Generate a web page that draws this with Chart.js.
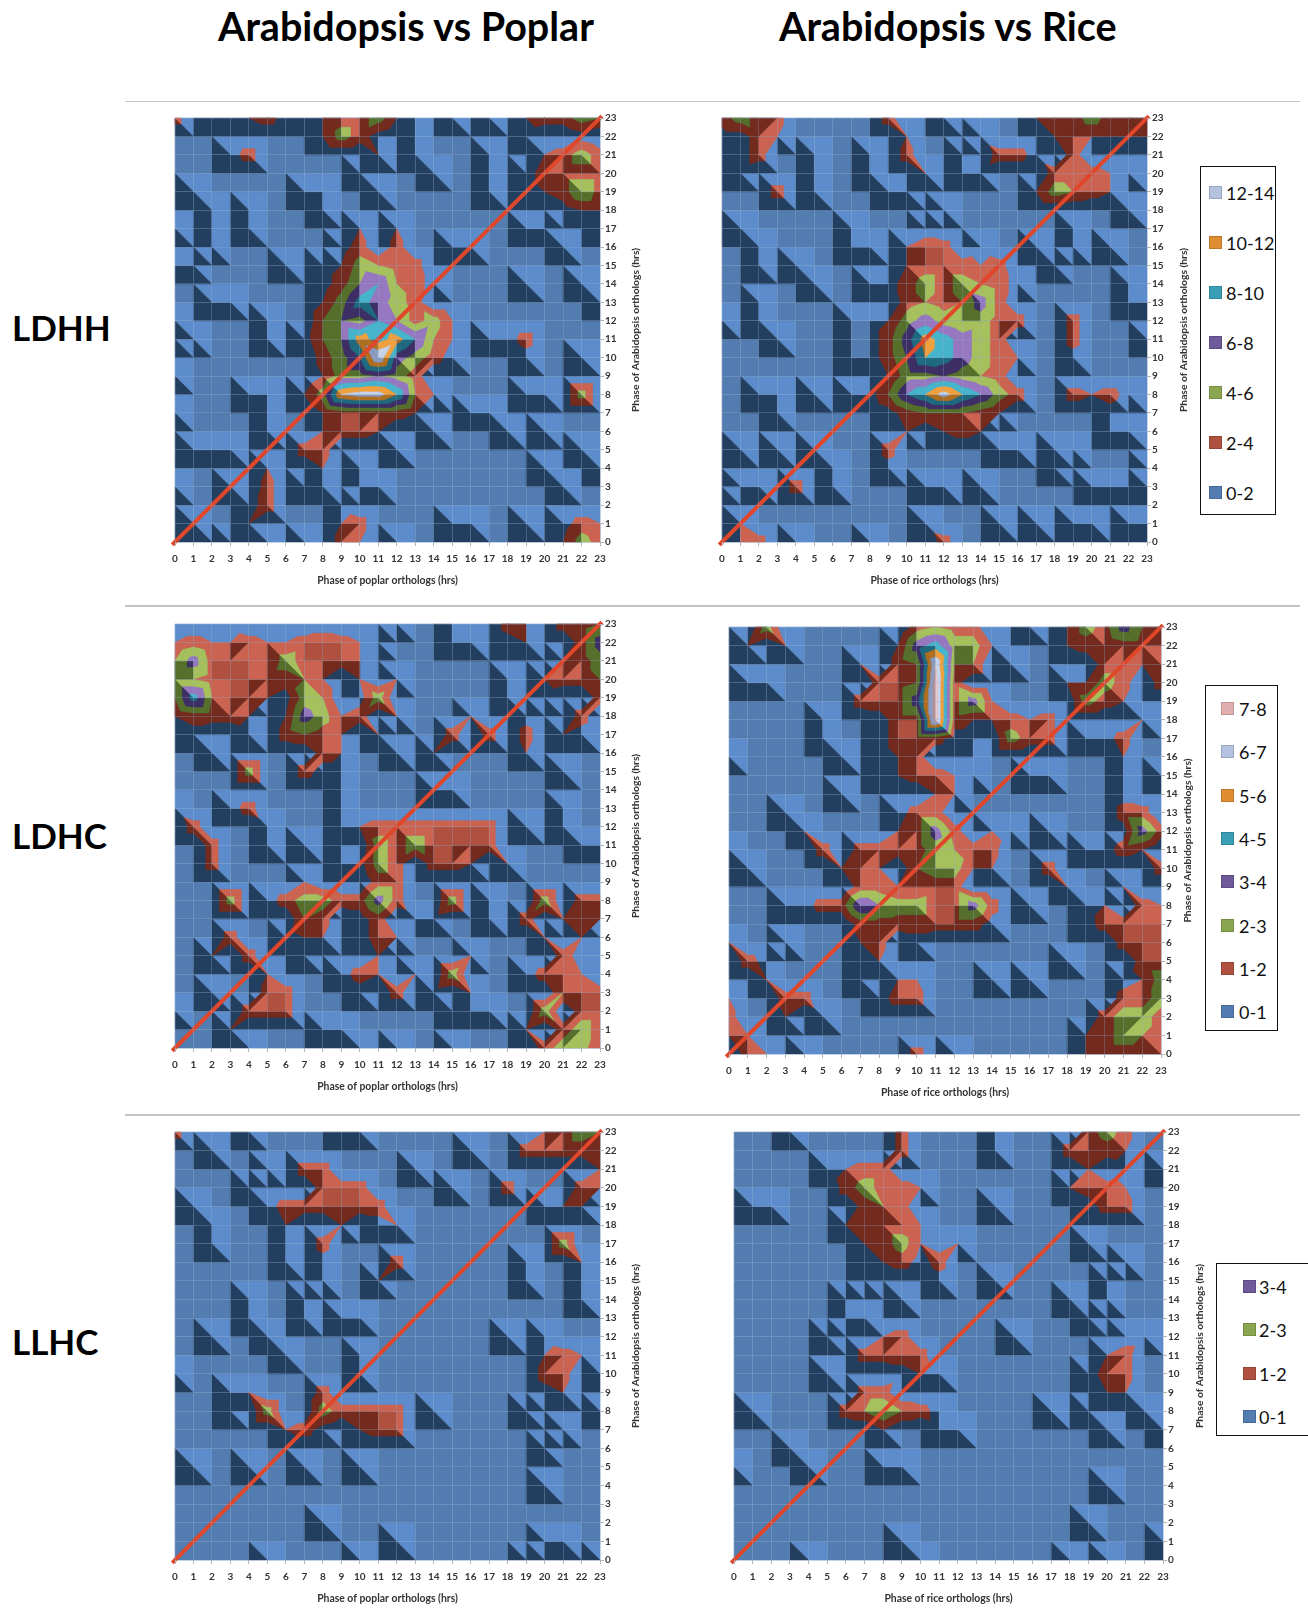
<!DOCTYPE html>
<html>
<head>
<meta charset="utf-8">
<script src="https://cdn.jsdelivr.net/npm/chart.js@4"></script>
<style>
  html, body { margin: 0; padding: 0; background: #fff; }
  #page { position: relative; width: 1308px; height: 1617px; overflow: hidden; font-family: Lato, sans-serif; color: #000; }
  #page canvas { position: absolute; filter: blur(0.5px); }
  .heading { position: absolute; font-weight: 700; font-size: 39.5px; line-height: 44px; white-space: nowrap; }
  .rowhead { position: absolute; font-weight: 700; font-size: 35px; line-height: 44px; white-space: nowrap; }
  .rule { position: absolute; left: 125px; width: 1175px; background: #c4c4c4; }
  .legend { position: absolute; box-sizing: border-box; border: 1.5px solid #111; background: #fff; }
  .legend i { position: absolute; width: 13px; height: 13px; box-sizing: border-box; border: 1px solid rgba(0,0,0,.15); }
  .legend span { position: absolute; font-size: 18px; line-height: 24px; color: #111; white-space: nowrap; }
</style>
</head>
<body>
<div id="page"></div>
<script>
// node heights per panel, top row is y = 23, one hex digit per hour of x
// 1 digit = half a legend band (so 2-3 is the red band, 4-5 green, ...)
const ldhhPoplar = [
  "301123 112335 210101 023354", "000000 002531 010000 010010", "000130 000002 010001 002353", "000000 000010 001001 013333",
  "010000 011001 000001 012363", "001010 001000 000000 000122", "101010 000020 200000 011001", "001000 000130 300110 000100",
  "110000 101254 330000 000000", "000000 001368 431000 010010", "001100 002597 530000 000001", "100001 004658 635200 000000",
  "010001 0146b9 b84201 130000", "100000 00358e 753100 010010", "100000 002556 530000 000000", "000011 025cdd a42000 011050",
  "100001 002333 320011 000000", "000001 002332 001000 101000", "011100 033000 100000 000010", "000002 002010 000000 001001",
  "100103 011011 000000 000100", "000013 000100 000000 000000", "010020 000230 000110 010132", "000101 010320 100000 000253"
];
const ldhhRice = [
  "353300 000300 100002 335333", "113200 000020 001000 222222", "013001 001030 010331 030000", "010001 001002 011000 333210",
  "000301 000110 000002 543200", "000000 000000 100000 000010", "010000 010001 000000 010000", "001000 011023 301001 010100",
  "001010 000023 332300 100000", "000001 001135 354310 000010", "001000 000034 347300 000011", "101000 011257 545330 030000",
  "000100 01137b 975300 030001", "000000 01136a 975320 010000", "000000 000255 654300 000000", "001101 01148a da8530 032310",
  "000100 000134 443200 000100", "000000 000020 232000 000110", "010101 000300 000110 110000", "000000 100100 000000 100001",
  "011030 100001 101000 001111", "100000 000000 000000 000000", "020000 000001 000101 011011", "023010 001000 300000 000000"
];
const ldhcPoplar = [
  "000100 001000 100100 320334", "232232 233321 000110 120037", "473332 533320 000000 000235", "443333 342020 200000 102334",
  "494332 154015 000000 101003", "233320 275230 200020 010030", "010010 343202 000303 030210", "001000 003200 102000 020000",
  "000050 031100 000000 000100", "000000 000100 001100 000000", "100130 000100 000000 000100", "030001 000123 333333 010100",
  "003001 010105 353333 000011", "003000 000115 303320 200000", "000000 020003 300000 000000", "000501 355337 300501 005033",
  "000000 043013 011001 030222", "000300 122013 200000 002020", "002030 010002 000020 000311", "000002 000132 020500 013220",
  "001003 300010 301020 000433", "100033 300000 000111 005033", "000200 001100 000000 020353", "000010 000010 100100 003552"
];
const ldhcRice = [
  "005000 000034 330010 253744", "020200 000279 552000 232332", "000000 02034e 440100 003323", "011000 00334f 300000 225303",
  "000000 03337f 372000 053200", "000001 00133f 322323 000020", "000001 001333 110533 011300", "100000 101230 010000 000200",
  "000000 001233 210011 000101", "000000 100002 200000 000100", "000100 000133 000000 000330", "000020 000237 302101 000173",
  "100003 033335 433000 011320", "010000 232045 522003 000003", "000000 033223 300000 200200", "000113 386553 373010 012032",
  "000000 033333 331000 013333", "200100 023010 000000 000333", "031000 012000 000000 100033", "002000 010220 001010 000125",
  "200330 001330 000000 000335", "300201 000000 000000 003553", "220000 000000 000000 023543", "032010 000030 100000 023333"
];
const llhcPoplar = [
  "300010 000110 000000 002354", "001000 000000 000010 033332", "000001 033000 010000 000002", "000010 003330 000100 300032",
  "010001 333333 000000 001220", "001000 200201 200000 000000", "001000 103000 000000 000500", "000000 101000 300000 010020",
  "000000 001002 000000 010010", "000010 010000 000000 000010", "000010 010110 000000 000000", "001001 000000 000000 101000",
  "000000 100010 000000 002320", "100000 000010 000000 003301", "000120 003000 000000 001200", "000105 005333 301000 010001",
  "000000 231023 300000 000100", "000000 000000 000000 001000", "010010 010010 000000 000000", "000000 000000 000000 001000",
  "000000 000000 000000 000000", "000000 001000 000000 000000", "000000 000000 100000 001100", "000001 000010 000000 010001"
];
const llhcRice = [
  "000100 000300 001000 035300", "000000 000300 001000 323200", "000001 233000 000000 020101", "000000 353320 000000 233200",
  "011000 034300 001000 013300", "000000 233320 000000 000000", "000000 023521 200000 010000", "000000 012313 000000 000100",
  "000000 010001 001000 001000", "000000 100100 000000 101000", "000000 110000 000000 010000", "000001 002300 000100 000110",
  "000000 033330 000000 002300", "000001 000121 000000 013300", "000000 033000 000000 002200", "010000 346431 000001 010010",
  "000000 002001 100000 001001", "000100 000000 000000 000000", "100010 001100 000000 000000", "000000 000000 000000 001000",
  "000000 000000 000000 000000", "000000 000000 000000 010000", "000000 000100 000000 000001", "000010 000010 000000 101000"
];

const diagonalHours = [-0.15, 23.1];
const columnTitles = ["Arabidopsis vs Poplar", "Arabidopsis vs Rice"];
const rowTitles = ["LDHH", "LDHC", "LLHC"];
const ldhhBands = ["12-14", "10-12", "8-10", "6-8", "4-6", "2-4", "0-2"];
const ldhcBands = ["7-8", "6-7", "5-6", "4-5", "3-4", "2-3", "1-2", "0-1"];
const llhcBands = ["3-4", "2-3", "1-2", "0-1"];

// dark, flat, light tone of each band
const bandTones = [
  ["#233f60", "#537cb0", "#5c8ccb"],
  ["#742a1c", "#b0513f", "#cc6350"],
  ["#56702c", "#8aa650", "#a6c05c"],
  ["#3d2f66", "#6e5a9b", "#9677c0"],
  ["#1f6a7e", "#3a9fb6", "#46b4cb"],
  ["#b06e20", "#e08c30", "#f0a03c"],
  ["#8d9cc0", "#b4c2e0", "#c8d4ea"],
  ["#c09090", "#e0b0b0", "#ecc8c8"]
];

const panels = [
  { rows: ldhhPoplar, xTitle: "Phase of poplar orthologs (hrs)", left: 175, top: 118, right: 600, bottom: 542, yTitleOff: 36 },
  { rows: ldhhRice, xTitle: "Phase of rice orthologs (hrs)", left: 721.7, top: 117.7, right: 1146.7, bottom: 541.7, yTitleOff: 37 },
  { rows: ldhcPoplar, xTitle: "Phase of poplar orthologs (hrs)", left: 175, top: 624, right: 600, bottom: 1048, yTitleOff: 36 },
  { rows: ldhcRice, xTitle: "Phase of rice orthologs (hrs)", left: 729, top: 626.7, right: 1161, bottom: 1053.3, yTitleOff: 27 },
  { rows: llhcPoplar, xTitle: "Phase of poplar orthologs (hrs)", left: 175, top: 1132.3, right: 600, bottom: 1560, yTitleOff: 36 },
  { rows: llhcRice, xTitle: "Phase of rice orthologs (hrs)", left: 734.3, top: 1132.3, right: 1163.3, bottom: 1560.7, yTitleOff: 37 }
];

function nodePoints(rows) {
  const pts = [];
  rows.forEach((row, r) => {
    const digits = row.replace(/ /g, "");
    for (let x = 0; x < 24; x++) pts.push({ x: x, y: 23 - r, v: parseInt(digits[x], 16) });
  });
  return pts;
}

function clipAt(poly, level, keepAbove) {
  const out = [];
  for (let i = 0; i < poly.length; i++) {
    const a = poly[i], b = poly[(i + 1) % poly.length];
    const aIn = keepAbove ? a.v >= level : a.v <= level;
    const bIn = keepAbove ? b.v >= level : b.v <= level;
    if (aIn) out.push(a);
    if (aIn !== bIn) {
      const t = (level - a.v) / (b.v - a.v);
      out.push({ x: a.x + (b.x - a.x) * t, y: a.y + (b.y - a.y) * t, v: level });
    }
  }
  return out;
}

function polyArea(poly) {
  let sum = 0;
  poly.forEach((p, i) => {
    const q = poly[(i + 1) % poly.length];
    sum += p.x * q.y - q.x * p.y;
  });
  return Math.abs(sum) / 2;
}

// tone of a triangle follows the tilt of its cell: 0 dark, 1 flat, 2 light
function toneOf(tl, tr, bl, br, lowerLeft) {
  if (tl.v === tr.v && tl.v === bl.v && tl.v === br.v) return 1;
  if (tr.v > bl.v) return 0;
  if (tr.v < bl.v) return 2;
  return lowerLeft ? 0 : 2;
}

function tracePoly(ctx, xs, ys, poly, color) {
  ctx.beginPath();
  poly.forEach((p, i) => {
    const px = xs.getPixelForValue(p.x), py = ys.getPixelForValue(p.y);
    if (i) ctx.lineTo(px, py); else ctx.moveTo(px, py);
  });
  ctx.closePath();
  ctx.fillStyle = color;
  ctx.strokeStyle = color;
  ctx.lineWidth = 0.5;
  ctx.fill();
  ctx.stroke();
}

function fillHotBands(ctx, xs, ys, tri, tone) {
  for (let band = 1; band < bandTones.length; band++) {
    const hi = band === bandTones.length - 1 ? 99 : (band + 1) * 2;
    let poly = clipAt(tri, band * 2, true);
    if (poly.length) poly = clipAt(poly, hi, false);
    if (poly.length >= 3 && polyArea(poly) > 0.001) tracePoly(ctx, xs, ys, poly, bandTones[band][tone]);
  }
}

const surfacePlugin = {
  id: "surface",
  beforeDatasetsDraw(chart) {
    const ctx = chart.ctx, xs = chart.scales.x, ys = chart.scales.y;
    const nodes = chart.data.datasets[1].data;
    const at = (x, y) => nodes[(23 - y) * 24 + x];
    ctx.save();
    // base band first, always cut along the same diagonal
    for (let y = 0; y < 23; y++) {
      for (let x = 0; x < 23; x++) {
        const tl = at(x, y + 1), tr = at(x + 1, y + 1), bl = at(x, y), br = at(x + 1, y);
        const toneA = toneOf(tl, tr, bl, br, true), toneB = toneOf(tl, tr, bl, br, false);
        if (toneA === toneB) {
          tracePoly(ctx, xs, ys, [tl, tr, br, bl], bandTones[0][toneA]);
        } else {
          tracePoly(ctx, xs, ys, [tl, tr, br], bandTones[0][toneB]);
          tracePoly(ctx, xs, ys, [tl, bl, br], bandTones[0][toneA]);
        }
      }
    }
    // bands above it, the cell is cut through its higher corners
    for (let y = 0; y < 23; y++) {
      for (let x = 0; x < 23; x++) {
        const tl = at(x, y + 1), tr = at(x + 1, y + 1), bl = at(x, y), br = at(x + 1, y);
        if (Math.max(tl.v, tr.v, bl.v, br.v) < 2) continue;
        if (tr.v + bl.v > tl.v + br.v) {
          fillHotBands(ctx, xs, ys, [tr, bl, tl], toneOf(tl, tr, bl, br, true));
          fillHotBands(ctx, xs, ys, [tr, bl, br], toneOf(tl, tr, bl, br, false));
        } else {
          fillHotBands(ctx, xs, ys, [tl, bl, br], toneOf(tl, tr, bl, br, true));
          fillHotBands(ctx, xs, ys, [tl, tr, br], toneOf(tl, tr, bl, br, false));
        }
      }
    }
    ctx.restore();
  },
  afterDraw(chart, args, opts) {
    // right hand title reads bottom to top, the scale title can't do that on the right
    const ctx = chart.ctx, area = chart.chartArea;
    ctx.save();
    ctx.translate(area.right + opts.offset, (area.top + area.bottom) / 2);
    ctx.rotate(-Math.PI / 2);
    ctx.font = "bold 10.3px Lato";
    ctx.fillStyle = "#333";
    ctx.textAlign = "center";
    ctx.textBaseline = "middle";
    ctx.fillText("Phase of Arabidopsis orthologs (hrs)", 0, 0);
    ctx.restore();
  }
};

function drawPanel(page, panel) {
  const padLeft = 12, padTop = 10, xAxisH = 48, yAxisW = 52;
  const canvas = document.createElement("canvas");
  const w = panel.right - panel.left + padLeft + yAxisW;
  const h = panel.bottom - panel.top + padTop + xAxisH;
  canvas.width = Math.round(w);
  canvas.height = Math.round(h);
  canvas.style.left = Math.round(panel.left - padLeft) + "px";
  canvas.style.top = Math.round(panel.top - padTop) + "px";
  page.appendChild(canvas);

  const axisTicks = { stepSize: 1, autoSkip: false, maxRotation: 0, color: "#333", font: { family: "Lato", size: 10, weight: "bold" } };

  new Chart(canvas, {
    type: "scatter",
    data: {
      datasets: [
        {
          data: diagonalHours.map(h => ({ x: h, y: h })),
          showLine: true, borderColor: "#e0472a", borderWidth: 4, pointRadius: 0, clip: false, order: 0
        },
        { data: nodePoints(panel.rows), pointRadius: 0, showLine: false, order: 1 }
      ]
    },
    options: {
      responsive: false,
      animation: false,
      devicePixelRatio: 1,
      layout: { padding: { left: padLeft, top: padTop, right: 0, bottom: 0 } },
      plugins: { legend: { display: false }, tooltip: { enabled: false }, surface: { offset: panel.yTitleOff } },
      scales: {
        x: {
          type: "linear", min: 0, max: 23, ticks: { ...axisTicks, padding: 7 },
          grid: { z: 1, color: "rgba(150,175,210,0.28)", tickColor: "#b5b5b5", tickLength: 4 },
          border: { display: false },
          title: { display: true, text: panel.xTitle, color: "#333", padding: { top: 0, bottom: 3 }, font: { family: "Lato", size: 10.4, weight: "bold" } },
          afterFit(scale) { scale.height = xAxisH; }
        },
        y: {
          type: "linear", position: "right", min: 0, max: 23, ticks: { ...axisTicks, padding: 1 },
          grid: { z: 1, color: "rgba(150,175,210,0.28)", tickColor: "#b5b5b5", tickLength: 4 },
          border: { display: false },
          afterFit(scale) { scale.width = yAxisW; }
        }
      }
    },
    plugins: [surfacePlugin]
  });
}

function addText(page, cls, text, left, top) {
  const d = document.createElement("div");
  d.className = cls;
  d.textContent = text;
  d.style.left = left + "px";
  d.style.top = top + "px";
  page.appendChild(d);
}

function addLegend(page, labels, box, firstY, stepY, swatchX, textX) {
  const d = document.createElement("div");
  d.className = "legend";
  d.style.cssText = `left:${box[0]}px;top:${box[1]}px;width:${box[2]}px;height:${box[3]}px`;
  labels.forEach((label, i) => {
    const cy = firstY + stepY * i - box[1];
    const band = labels.length - 1 - i;
    const sw = document.createElement("i");
    sw.style.cssText = `left:${swatchX - box[0]}px;top:${cy - 7}px;background:${bandTones[band][1]}`;
    const tx = document.createElement("span");
    tx.textContent = label;
    tx.style.cssText = `left:${textX - box[0]}px;top:${cy - 12}px`;
    d.appendChild(sw);
    d.appendChild(tx);
  });
  page.appendChild(d);
}

const page = document.getElementById("page");
addText(page, "heading", columnTitles[0], 218, 4);
addText(page, "heading", columnTitles[1], 779, 4);
addText(page, "rowhead", rowTitles[0], 12, 305);
addText(page, "rowhead", rowTitles[1], 12, 813);
addText(page, "rowhead", rowTitles[2], 12, 1319);
[[101, 1], [605, 2], [1114, 2]].forEach(r => {
  const d = document.createElement("div");
  d.className = "rule";
  d.style.top = r[0] + "px";
  d.style.height = r[1] + "px";
  page.appendChild(d);
});
panels.forEach(p => drawPanel(page, p));
addLegend(page, ldhhBands, [1200, 166, 76, 349], 192, 50, 1208, 1225);
addLegend(page, ldhcBands, [1205, 685, 73, 346], 708, 43.3, 1220, 1238);
addLegend(page, llhcBands, [1216, 1263, 96, 173], 1286, 43.3, 1242, 1258);
</script>
</body>
</html>
